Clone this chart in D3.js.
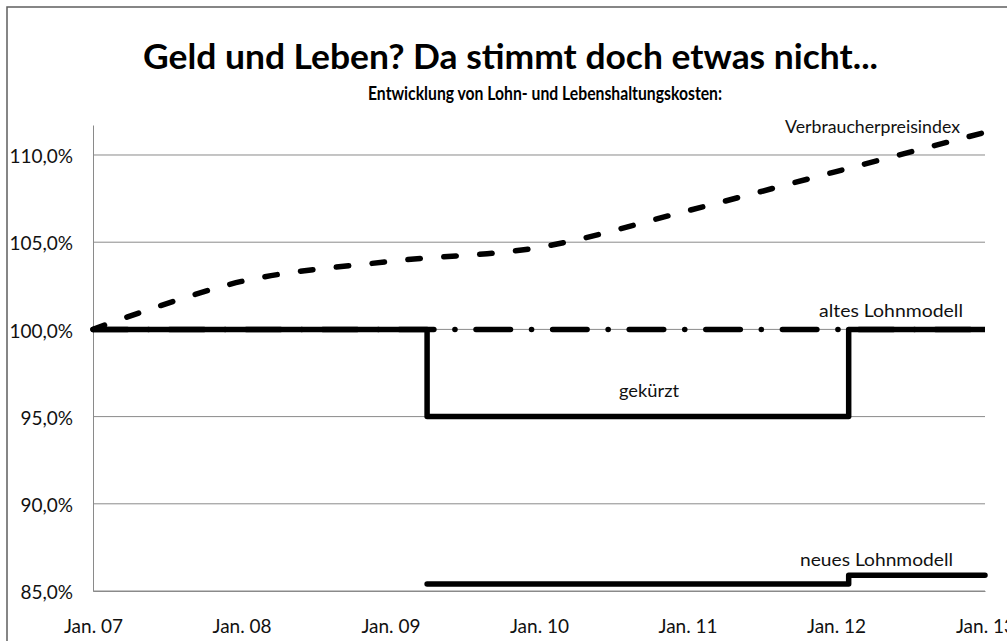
<!DOCTYPE html>
<html lang="de">
<head>
<meta charset="UTF-8" />
<title>Geld und Leben</title>
<script src="https://d3js.org/d3.v7.min.js"></script>
<style>
  body { margin: 0; background: #fff; }
  svg { display: block; font-family: Lato, "Open Sans", sans-serif; }
</style>
</head>
<body>
<svg id="chart" width="1007" height="641"></svg>
<script>
  // axis ticks
  const yearDates  = ["2007-01-01", "2008-01-01", "2009-01-01", "2010-01-01", "2011-01-01", "2012-01-01", "2013-01-01"];
  const yearLabels = ["Jan. 07", "Jan. 08", "Jan. 09", "Jan. 10", "Jan. 11", "Jan. 12", "Jan. 13"];
  const yTicks     = [85, 90, 95, 100, 105, 110];

  // Verbraucherpreisindex (Jan. 07 = 100 %)
  const cpiDates  = yearDates;
  const cpiValues = [100, 102.75, 103.9, 104.7, 106.8, 109.05, 111.3];

  // altes Lohnmodell
  const oldDates  = ["2007-01-01", "2013-01-01"];
  const oldValues = [100, 100];

  // gekürzt
  const cutDates  = ["2007-01-01", "2009-04-01", "2009-04-01", "2012-02-01", "2012-02-01", "2013-01-01"];
  const cutValues = [100, 100, 95, 95, 100, 100];

  // neues Lohnmodell
  const newDates  = ["2009-04-01", "2012-02-01", "2012-02-01", "2013-01-01"];
  const newValues = [85.4, 85.4, 85.9, 85.9];

  const parseDate = d3.timeParse("%Y-%m-%d");
  const de = d3.formatLocale({ decimal: ",", thousands: ".", grouping: [3], currency: ["", " €"] });
  const pct = d => de.format(".1f")(d) + "%";
  const zip = (dates, values) => dates.map((d, i) => ({ date: parseDate(d), value: values[i] }));

  const svg = d3.select("#chart");
  const gridColor = "#8a8a8a";

  // outer frame (runs past the right/bottom edge like the original)
  svg.append("rect")
    .attr("x", 7).attr("y", 7)
    .attr("width", 1100).attr("height", 700)
    .attr("fill", "#fff")
    .attr("stroke", "#5f5f5f")
    .attr("stroke-width", 1.5);

  const x = d3.scaleTime()
    .domain([parseDate("2007-01-01"), parseDate("2013-01-01")])
    .range([93, 985]);

  const y = d3.scaleLinear()
    .domain([85, 111.72])
    .range([591, 125]);

  // gridlines
  svg.append("g")
    .selectAll("line")
    .data(yTicks)
    .enter().append("line")
      .attr("x1", x.range()[0]).attr("x2", x.range()[1])
      .attr("y1", d => y(d)).attr("y2", d => y(d))
      .attr("stroke", gridColor)
      .attr("stroke-width", 1);

  // y axis
  const yAxis = svg.append("g")
    .attr("transform", `translate(${x.range()[0]},0)`)
    .call(d3.axisLeft(y).tickValues(yTicks).tickSize(0).tickSizeOuter(0).tickPadding(20).tickFormat(pct));
  yAxis.select(".domain").attr("stroke", gridColor);
  yAxis.selectAll("text")
    .attr("font-size", "19px")
    .attr("font-family", "Lato, sans-serif")
    .attr("fill", "#111")
    .attr("dy", "0.4em");

  // x axis
  const xAxis = svg.append("g")
    .attr("transform", `translate(0,${y.range()[0]})`)
    .call(d3.axisBottom(x)
      .tickValues(yearDates.map(parseDate))
      .tickSize(0).tickSizeOuter(0)
      .tickFormat((d, i) => yearLabels[i]));
  xAxis.select(".domain").attr("stroke", gridColor);
  xAxis.selectAll("text")
    .attr("font-size", "19px")
    .attr("font-family", "Lato, sans-serif")
    .attr("fill", "#111")
    .attr("y", 42)
    .attr("dy", 0);

  const line = d3.line()
    .x(d => x(d.date))
    .y(d => y(d.value));

  // altes Lohnmodell: long dash - dot
  svg.append("path")
    .datum(zip(oldDates, oldValues))
    .attr("fill", "none")
    .attr("stroke", "#000")
    .attr("stroke-width", 5.5)
    .attr("stroke-linecap", "round")
    .attr("stroke-dasharray", "34.5,21,0.1,21")
    .attr("d", line);

  // gekürzt
  svg.append("path")
    .datum(zip(cutDates, cutValues))
    .attr("fill", "none")
    .attr("stroke", "#000")
    .attr("stroke-width", 5.5)
    .attr("stroke-linejoin", "round")
    .attr("d", line);

  // neues Lohnmodell
  svg.append("path")
    .datum(zip(newDates, newValues))
    .attr("fill", "none")
    .attr("stroke", "#000")
    .attr("stroke-width", 5.5)
    .attr("stroke-linecap", "round")
    .attr("stroke-linejoin", "round")
    .attr("d", line);

  // Verbraucherpreisindex: dashed, smoothed
  svg.append("path")
    .datum(zip(cpiDates, cpiValues))
    .attr("fill", "none")
    .attr("stroke", "#000")
    .attr("stroke-width", 5.5)
    .attr("stroke-linecap", "round")
    .attr("stroke-dasharray", "12.5,23.5")
    .attr("d", line.curve(d3.curveCatmullRom.alpha(0.5)));

  // titles
  svg.append("text")
    .attr("x", 143).attr("y", 69)
    .attr("font-size", "34px")
    .attr("font-weight", "bold")
    .attr("textLength", 735)
    .attr("lengthAdjust", "spacingAndGlyphs")
    .text("Geld und Leben? Da stimmt doch etwas nicht...");

  svg.append("text")
    .attr("x", 368).attr("y", 100)
    .attr("font-size", "18px")
    .attr("font-weight", "bold")
    .attr("textLength", 354)
    .attr("lengthAdjust", "spacingAndGlyphs")
    .text("Entwicklung von Lohn- und Lebenshaltungskosten:");

  // series labels
  const labels = [
    { text: "Verbraucherpreisindex", x: 785, y: 133, w: 175 },
    { text: "altes Lohnmodell",      x: 819, y: 317, w: 144 },
    { text: "gekürzt",               x: 619, y: 397, w: 60 },
    { text: "neues Lohnmodell",      x: 800, y: 566, w: 153 }
  ];
  svg.append("g")
    .selectAll("text")
    .data(labels)
    .enter().append("text")
      .attr("x", d => d.x).attr("y", d => d.y)
      .attr("font-size", "18px")
      .attr("fill", "#111")
      .attr("textLength", d => d.w)
      .attr("lengthAdjust", "spacingAndGlyphs")
      .text(d => d.text);
</script>
</body>
</html>
